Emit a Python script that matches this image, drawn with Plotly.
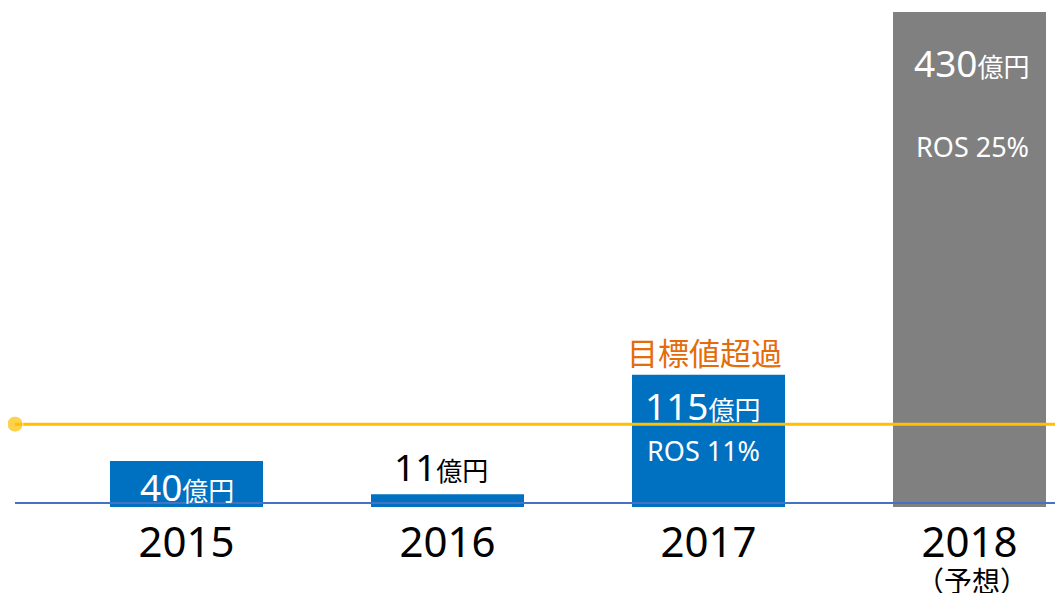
import plotly.graph_objects as go

years = ["2015", "2016", "2017", "2018"]
year_notes = ["", "", "", "（予想）"]
sales = [40, 11, 115, 430]
ros_text = ["", "", "ROS 11%", "ROS 25%"]
target = 72
bar_colors = ["#0070C0", "#0070C0", "#0070C0", "#808080"]

FONT = "Noto Sans, Noto Sans CJK JP, sans-serif"
CJK_FONT = "Noto Sans CJK JP, Noto Sans, sans-serif"

# the page body has an 8px margin, so the figure is 8px smaller than the window
W, H = 1055, 585
px_per_unit = 1.151
bar_step = 261
first_center = 178.5
plot_bottom = 499

x_pos = list(range(len(years)))


def yen_label(v, num_size=37, unit_size=26):
    return (f"<span style='font-size:{num_size}px'>{v}</span>"
            f"<span style='font-size:{unit_size}px'>億円</span>")


fig = go.Figure()

fig.add_trace(go.Bar(
    x=x_pos, y=sales, width=153 / bar_step,
    marker=dict(color=bar_colors, line=dict(width=0)),
    hoverinfo="skip",
))

# target line with a dot at the left end
x_left = -0.657
fig.add_trace(go.Scatter(
    x=[x_left, 3.5], y=[target, target],
    mode="lines+markers",
    line=dict(color="#FFC000", width=3),
    marker=dict(size=[16, 0], color="#FFC000"),
    cliponaxis=False, hoverinfo="skip",
))

# baseline
fig.add_shape(type="line", xref="paper", yref="y",
              x0=7 / W, x1=1, y0=3.5, y1=3.5,
              line=dict(color="#4472C4", width=2), layer="above")

ann = []
# 2015
ann.append(dict(x=0, y=18.2, text=yen_label(sales[0]), font=dict(color="white")))
# 2016
ann.append(dict(x=1 - 0.025, y=34.8, text=yen_label(sales[1]), font=dict(color="black")))
# 2017
ann.append(dict(x=2 - 0.02, y=88.6, text=yen_label(sales[2]), font=dict(color="white")))
ann.append(dict(x=2 - 0.02, y=48.7, text=ros_text[2], font=dict(color="white", size=27)))
ann.append(dict(x=2 - 0.015, y=133.8, text="目標値超過", font=dict(color="#E46C0A", size=31)))
# 2018
ann.append(dict(x=3 + 0.01, y=386.6, text=yen_label(sales[3]), font=dict(color="white")))
ann.append(dict(x=3 + 0.013, y=313.6, text=ros_text[3], font=dict(color="white", size=27)))

for a in ann:
    a.update(xref="x", yref="y", showarrow=False, xanchor="center", yanchor="middle")
    a["font"] = dict(family=FONT, **a["font"])

# second line under the year (forecast note)
for i, note in enumerate(year_notes):
    if note:
        ann.append(dict(x=i + 0.01, xref="x", yref="paper", y=(plot_bottom - 572) / plot_bottom,
                        text=note, showarrow=False, xanchor="center", yanchor="middle",
                        font=dict(family=CJK_FONT, size=28, color="black")))

fig.update_layout(
    width=W, height=H,
    margin=dict(l=0, r=0, t=0, b=H - plot_bottom, autoexpand=False),
    paper_bgcolor="white", plot_bgcolor="white",
    showlegend=False,
    annotations=ann,
    font=dict(family=FONT),
    xaxis=dict(
        range=[-first_center / bar_step, (W - first_center) / bar_step],
        tickvals=x_pos, ticktext=years,
        tickfont=dict(size=42, color="black", family=FONT),
        showgrid=False, zeroline=False, showline=False, ticks="",
        ticklabelstandoff=7, automargin=False,
    ),
    yaxis=dict(
        range=[0, plot_bottom / px_per_unit],
        visible=False, showgrid=False, zeroline=False, automargin=False,
    ),
)

fig.write_html("out.html")
